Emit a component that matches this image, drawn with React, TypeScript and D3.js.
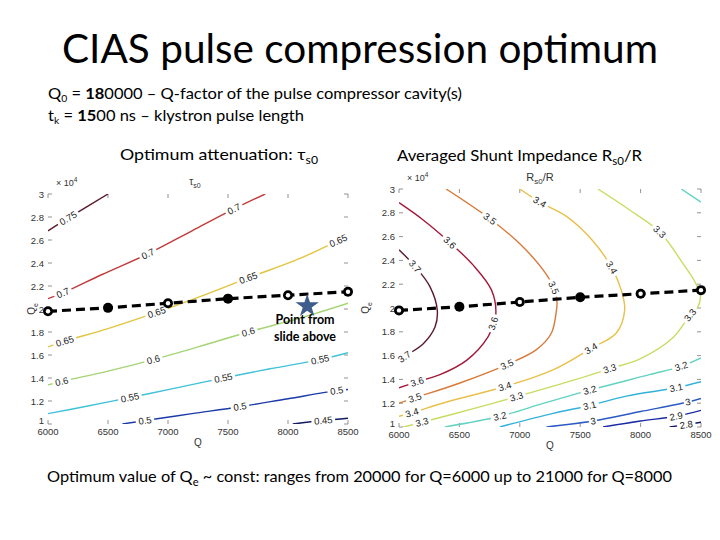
import React from "react";
import * as d3 from "d3";

type P = [number, number];

const qTicks = [6000, 6500, 7000, 7500, 8000, 8500];
const qeTicks = [1, 1.2, 1.4, 1.6, 1.8, 2, 2.2, 2.4, 2.6, 2.8, 3];
const qeTickLabels = ["1", "1.2", "1.4", "1.6", "1.8", "2", "2.2", "2.4", "2.6", "2.8", "3"];

const optimumQ = [6000, 6500, 7000, 7500, 8000, 8500];
const optimumQe = [1.98, 2.01, 2.05, 2.09, 2.12, 2.15];
const optimumOpen = [true, false, true, false, true, true];
const starPoint: P = [8160, 2.025];

// Optimum attenuation tau_s0 contours (Q, Qe/1e4)
const tauLevels = ["0.75", "0.7", "0.65", "0.6", "0.55", "0.5", "0.45"];
const tauLines: P[][] = [
  [[6000, 2.68], [6167, 2.79], [6500, 3.0]],
  [[6000, 2.09], [6125, 2.14], [6450, 2.3], [6833, 2.48], [7200, 2.68], [7550, 2.87], [7810, 3.0]],
  [[6000, 1.67], [6140, 1.72], [6500, 1.83], [6906, 1.97], [7300, 2.12], [7669, 2.27], [8100, 2.44], [8420, 2.595], [8500, 2.63]],
  [[6000, 1.34], [6114, 1.37], [6500, 1.46], [6878, 1.56], [7250, 1.67], [7669, 1.8], [8100, 1.92], [8500, 2.05]],
  [[6000, 1.09], [6300, 1.15], [6683, 1.23], [7050, 1.31], [7461, 1.4], [7850, 1.48], [8267, 1.56], [8500, 1.62]],
  [[6620, 1.0], [6808, 1.03], [7200, 1.09], [7600, 1.15], [8000, 1.22], [8406, 1.29], [8500, 1.3]],
  [[8040, 1.0], [8294, 1.03], [8500, 1.05]],
];
const tauLabelIdx = [[1], [1, 3, 5], [1, 3, 5, 7], [1, 3, 5], [2, 4, 6], [1, 3, 5], [1]];

// Averaged shunt impedance Rs0/R contours
const rsLevels = ["3.7", "3.6", "3.5", "3.4", "3.3", "3.2", "3.2", "3.1", "3", "2.9", "2.8"];
const rsLines: P[][] = [
  [[6000, 2.49], [6132, 2.35], [6256, 2.18], [6317, 1.98], [6298, 1.84], [6201, 1.7], [6045, 1.59], [6000, 1.55]],
  [[6000, 2.885], [6200, 2.74], [6421, 2.55], [6614, 2.36], [6766, 2.15], [6802, 1.955], [6780, 1.87], [6738, 1.76], [6559, 1.56], [6339, 1.44], [6150, 1.38], [6000, 1.33]],
  [[6390, 3.0], [6752, 2.75], [7000, 2.54], [7193, 2.32], [7281, 2.17], [7308, 2.05], [7300, 1.955], [7262, 1.79], [7138, 1.65], [6893, 1.525], [6504, 1.37], [6132, 1.245], [6000, 1.2]],
  [[7000, 3.0], [7165, 2.89], [7386, 2.77], [7600, 2.57], [7760, 2.34], [7840, 2.15], [7868, 1.98], [7799, 1.79], [7590, 1.66], [7275, 1.48], [6876, 1.34], [6394, 1.21], [6107, 1.12], [6000, 1.09]],
  [[7647, 3.0], [7900, 2.83], [8157, 2.64], [8350, 2.375], [8450, 2.22], [8495, 2.1], [8470, 2.0], [8410, 1.94], [8267, 1.75], [8000, 1.575], [7744, 1.49], [7465, 1.4], [6973, 1.255], [6600, 1.15], [6190, 1.04], [6000, 0.99]],
  [[8336, 3.0], [8500, 2.89]],
  [[6380, 1.0], [6835, 1.09], [7200, 1.2], [7579, 1.31], [8074, 1.44], [8336, 1.51], [8500, 1.58]],
  [[6835, 1.0], [7275, 1.115], [7579, 1.18], [7882, 1.26], [8295, 1.33], [8500, 1.38]],
  [[7221, 1.0], [7606, 1.05], [8000, 1.13], [8391, 1.21], [8500, 1.24]],
  [[7689, 1.0], [8000, 1.05], [8295, 1.09], [8500, 1.14]],
  [[8240, 1.0], [8378, 1.02], [8500, 1.04]],
];
const rsLabelIdx = [[1, 6], [2, 6, 10], [1, 4, 9, 11], [1, 4, 8, 10, 12], [2, 7, 10, 12, 14], [], [1, 3, 5], [2, 4], [1, 3], [2], [1]];

const tauColors = ["#5a1a2a", "#c23a3a", "#e2c440", "#a4d474", "#40c2d8", "#1a3aa8", "#121a62"];
const rsColors = ["#5a1a2a", "#a2183a", "#d87a3a", "#e8c04a", "#c8dc62", "#62d2c2", "#62d2c2", "#32b2d8", "#2a5ac2", "#1a2aa2", "#12186a"];

const FONT = "Lato, 'Open Sans', sans-serif";
const AX = "'Liberation Sans', Arial, sans-serif";

type PanelProps = {
  xr: [number, number];
  yr: [number, number];
  lines: P[][];
  levels: string[];
  labelIdx: number[][];
  colors: string[];
  id: string;
  yLabelOffset: number;
};

function Panel({ xr, yr, lines, levels, labelIdx, colors, id, yLabelOffset }: PanelProps) {
  const x = d3.scaleLinear().domain([6000, 8500]).range(xr);
  const y = d3.scaleLinear().domain([1, 3]).range(yr);
  const line = d3
    .line<P>()
    .x((d) => x(d[0]))
    .y((d) => y(d[1]))
    .curve(d3.curveCatmullRom.alpha(0.5));
  const dash = d3
    .line<number>()
    .x((_, i) => x(optimumQ[i]))
    .y((d) => y(d));
  const [x0, x1] = xr;
  const [yb, yt] = yr;
  return (
    <g>
      <defs>
        <clipPath id={id}>
          <rect x={x0} y={yt} width={x1 - x0} height={yb - yt} />
        </clipPath>
      </defs>
      {qTicks.map((t) => (
        <g key={"xt" + t}>
          <line x1={x(t)} x2={x(t)} y1={yb} y2={yb - 4} stroke="#777" strokeWidth={0.8} />
          <line x1={x(t)} x2={x(t)} y1={yt} y2={yt + 4} stroke="#777" strokeWidth={0.8} />
          <text x={x(t)} y={yb + 11} fontSize={9.5} fontFamily={AX} textAnchor="middle" fill="#333">
            {t}
          </text>
        </g>
      ))}
      {qeTicks.map((t, i) => (
        <g key={"yt" + t}>
          <line x1={x0} x2={x0 + 4} y1={y(t)} y2={y(t)} stroke="#777" strokeWidth={0.8} />
          <line x1={x1} x2={x1 - 4} y1={y(t)} y2={y(t)} stroke="#777" strokeWidth={0.8} />
          <text x={x0 - 4} y={y(t) + (i === 0 ? 0 : 3.5)} fontSize={9.5} fontFamily={AX} textAnchor="end" fill="#333">
            {qeTickLabels[i]}
          </text>
        </g>
      ))}
      <text x={x0 + 8} y={yt - 8} fontSize={9} fontFamily={AX} fill="#333">
        × 10
        <tspan dy={-4} fontSize={6.5}>4</tspan>
      </text>
      <g clipPath={`url(#${id})`}>
        {lines.map((pts, i) => (
          <path key={"c" + i} d={line(pts) || ""} fill="none" stroke={colors[i]} strokeWidth={1.4} />
        ))}
      </g>
      {lines.map((pts, i) =>
        labelIdx[i].map((k) => {
          const a = pts[Math.max(0, k - 1)];
          const b = pts[Math.min(pts.length - 1, k + 1)];
          let ang = (Math.atan2(y(b[1]) - y(a[1]), x(b[0]) - x(a[0])) * 180) / Math.PI;
          if (ang > 90) ang -= 180;
          if (ang < -90) ang += 180;
          const cx = x(pts[k][0]);
          const cy = y(pts[k][1]);
          const w = levels[i].length * 5.2 + 3;
          return (
            <g key={"l" + i + "-" + k} transform={`translate(${cx},${cy}) rotate(${ang})`}>
              <rect x={-w / 2} y={-5} width={w} height={10} fill="#fff" />
              <text x={0} y={3.3} fontSize={9.5} fontFamily={AX} textAnchor="middle" fill="#222">
                {levels[i]}
              </text>
            </g>
          );
        })
      )}
      <path d={dash(optimumQe) || ""} fill="none" stroke="#000" strokeWidth={3.2} strokeDasharray="9,5" />
      {optimumQe.map((v, i) => (
        <g key={"m" + i}>
          <circle cx={x(optimumQ[i])} cy={y(v)} r={5} fill="#000" />
          {optimumOpen[i] && <circle cx={x(optimumQ[i])} cy={y(v)} r={2.2} fill="#fff" />}
        </g>
      ))}
      <text x={(x0 + x1) / 2} y={yb + 22} fontSize={10} fontFamily={AX} textAnchor="middle" fill="#333">
        Q
      </text>
      <text
        transform={`translate(${x0 - yLabelOffset},${(yb + yt) / 2}) rotate(-90)`}
        fontSize={10}
        fontFamily={AX}
        textAnchor="middle"
        fill="#333"
      >
        Q<tspan dy={3} fontSize={7}>e</tspan>
      </text>
    </g>
  );
}

export default function App() {
  const xl = d3.scaleLinear().domain([6000, 8500]).range([48, 348]);
  const yl = d3.scaleLinear().domain([1, 3]).range([424, 194]);
  const star = d3.symbol().type(d3.symbolStar).size(170)() || "";
  return (
    <svg
      width={720}
      height={540}
      viewBox="0 0 720 540"
      style={{ position: "absolute", left: 0, top: 0, background: "#fff" }}
    >
      <rect width={720} height={540} fill="#fff" />
      <text x={360} y={63} fontSize={40} fontFamily={FONT} textAnchor="middle" fill="#000" textLength={596} lengthAdjust="spacingAndGlyphs">
        CIAS pulse compression optimum
      </text>
      <text x={48} y={99} fontSize={16} fontFamily={FONT} fill="#000" textLength={414} lengthAdjust="spacingAndGlyphs">
        Q<tspan dy={3} fontSize={10}>0</tspan>
        <tspan dy={-3}> = </tspan>
        <tspan fontWeight="bold">18</tspan>
        <tspan>0000 – Q-factor of the pulse compressor cavity(s)</tspan>
      </text>
      <text x={48} y={121} fontSize={16} fontFamily={FONT} fill="#000" textLength={256} lengthAdjust="spacingAndGlyphs">
        t<tspan dy={3} fontSize={10}>k</tspan>
        <tspan dy={-3}> = </tspan>
        <tspan fontWeight="bold">15</tspan>
        <tspan>00 ns – klystron pulse length</tspan>
      </text>
      <text x={120} y={160} fontSize={16} fontFamily={FONT} fill="#000" textLength={198} lengthAdjust="spacingAndGlyphs">
        Optimum attenuation: τ<tspan dy={4} fontSize={11}>s0</tspan>
      </text>
      <text x={397} y={161} fontSize={16} fontFamily={FONT} fill="#000" textLength={245} lengthAdjust="spacingAndGlyphs">
        Averaged Shunt Impedance R<tspan dy={4} fontSize={11}>s0</tspan>
        <tspan dy={-4}>/R</tspan>
      </text>

      <text x={195} y={185} fontSize={10} fontFamily={AX} textAnchor="middle" fill="#333">
        τ<tspan dy={3} fontSize={7}>s0</tspan>
      </text>
      <text x={540} y={181} fontSize={11} fontFamily={AX} textAnchor="middle" fill="#333">
        R<tspan dy={3} fontSize={8}>s0</tspan>
        <tspan dy={-3}>/R</tspan>
      </text>

      <Panel xr={[48, 348]} yr={[424, 194]} lines={tauLines} levels={tauLevels} labelIdx={tauLabelIdx} colors={tauColors} id="clipL" yLabelOffset={13} />
      <Panel xr={[399, 701]} yr={[427, 189]} lines={rsLines} levels={rsLevels} labelIdx={rsLabelIdx} colors={rsColors} id="clipR" yLabelOffset={30} />

      <path d={star} transform={`translate(${xl(starPoint[0])},${yl(starPoint[1])})`} fill="#3e5c8c" />
      <text x={305} y={324} fontSize={12.5} fontFamily={FONT} fontWeight="bold" textAnchor="middle" fill="#000">
        Point from
      </text>
      <text x={305} y={341} fontSize={12.5} fontFamily={FONT} fontWeight="bold" textAnchor="middle" fill="#000">
        slide above
      </text>

      <text x={47} y={482} fontSize={16} fontFamily={FONT} fill="#000" textLength={625} lengthAdjust="spacingAndGlyphs">
        Optimum value of Q<tspan dy={4} fontSize={11}>e</tspan>
        <tspan dy={-4}> ~ const: ranges from 20000 for Q=6000 up to 21000 for Q=8000</tspan>
      </text>
    </svg>
  );
}
